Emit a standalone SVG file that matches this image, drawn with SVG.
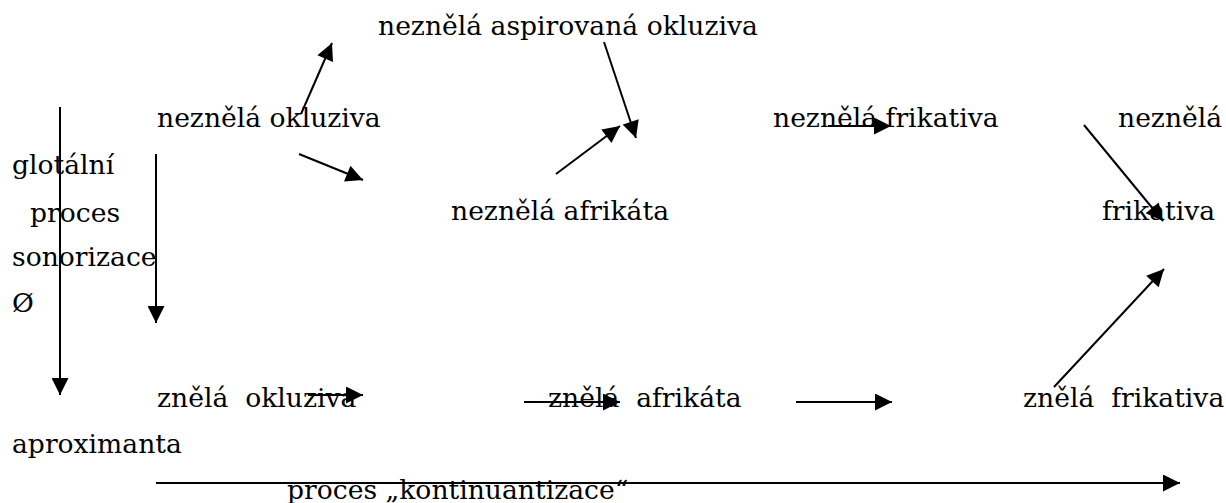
<svg xmlns="http://www.w3.org/2000/svg" width="1226" height="503" viewBox="0 0 1226 503">
  <style>
    text { font-family: "DejaVu Serif", serif; font-size: 26.6px; fill: #000; white-space: pre; }
    .arrow { stroke: #000; stroke-width: 2; fill: none; marker-end: url(#head); }
  </style>
  <defs>
    <marker id="head" viewBox="0 0 10 10" refX="10" refY="5" markerWidth="9.5" markerHeight="8.5" markerUnits="strokeWidth" orient="auto">
      <path d="M0,0 L10,5 L0,10 z" fill="#000"/>
    </marker>
  </defs>
  <rect width="1226" height="503" fill="#fff"/>

  <g id="n-aspirovana"><text x="378" y="35">neznělá aspirovaná okluziva</text></g>
  <g id="n-okluziva"><text x="157" y="127">neznělá okluziva</text></g>
  <g id="n-frikativa"><text x="773" y="127">neznělá frikativa</text></g>
  <g id="n-frikativa2"><text x="1118" y="127">neznělá</text><text x="1102" y="220">frikativa</text></g>
  <g id="n-afrikata"><text x="451" y="220">neznělá afrikáta</text></g>
  <g id="glotalni">
    <text x="12" y="174">glotální</text>
    <text x="30" y="222">proces</text>
    <text x="12" y="266">sonorizace</text>
    <text x="12" y="312">Ø</text>
  </g>
  <g id="z-okluziva"><text x="157" y="407">znělá  okluziva</text></g>
  <g id="z-afrikata"><text x="548" y="407">znělá  afrikáta</text></g>
  <g id="z-frikativa"><text x="1023" y="407">znělá  frikativa</text></g>
  <g id="aproximanta"><text x="12" y="453">aproximanta</text></g>
  <g id="kontinuantizace"><text x="287" y="499">proces „kontinuantizace“</text></g>

  <g id="connectors">
    <line class="arrow" x1="301" y1="114" x2="332" y2="43"/>
    <line class="arrow" x1="299" y1="154" x2="363" y2="180"/>
    <line class="arrow" x1="604" y1="42" x2="636" y2="138"/>
    <line class="arrow" x1="556" y1="174" x2="620" y2="126"/>
    <line class="arrow" x1="828" y1="126" x2="891" y2="126"/>
    <line class="arrow" x1="1084" y1="125" x2="1163" y2="221"/>
    <line class="arrow" x1="60" y1="107" x2="60" y2="395"/>
    <line class="arrow" x1="156" y1="154" x2="156" y2="323"/>
    <line class="arrow" x1="308" y1="395" x2="363" y2="395"/>
    <line class="arrow" x1="524" y1="402" x2="620" y2="402"/>
    <line class="arrow" x1="796" y1="402" x2="892" y2="402"/>
    <line class="arrow" x1="1054" y1="387" x2="1164" y2="269"/>
    <line class="arrow" x1="156" y1="483" x2="1180" y2="483"/>
  </g>
</svg>
